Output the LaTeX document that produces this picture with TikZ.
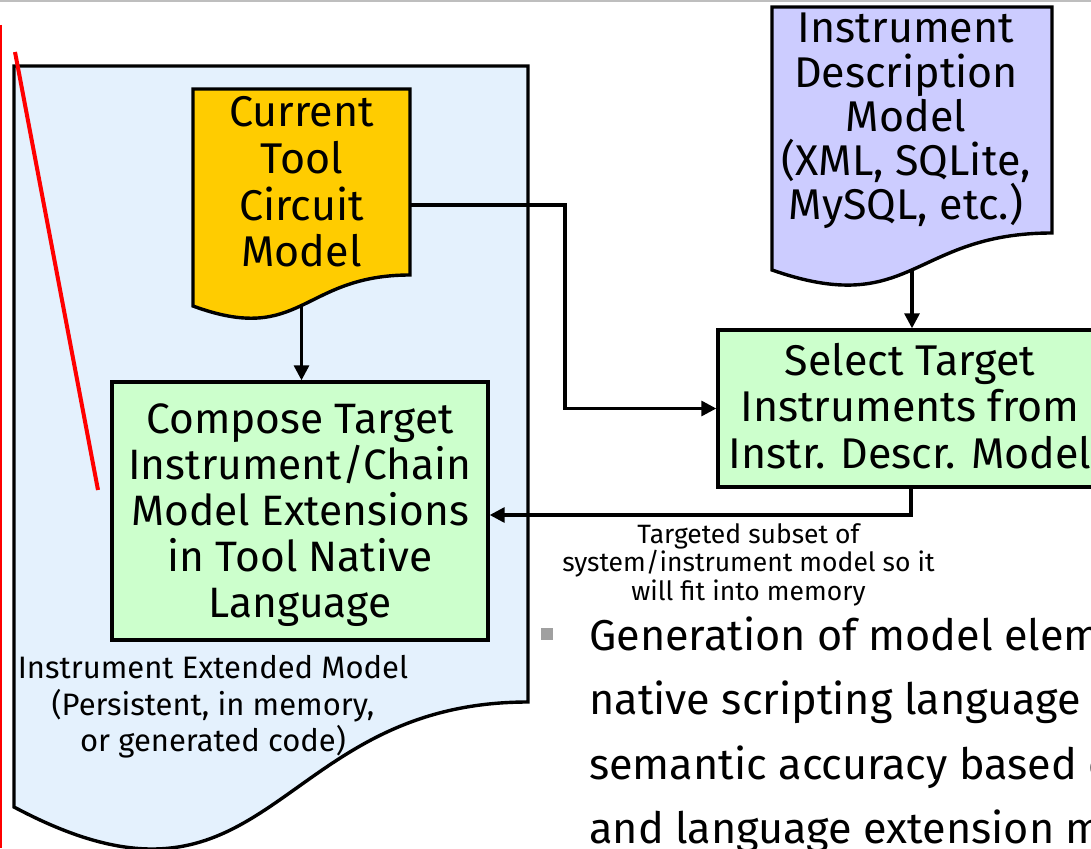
\documentclass[tikz,border=0pt]{standalone}
\usepackage{fontspec}
\setmainfont{Fira Sans}
\usetikzlibrary{arrows.meta}

\definecolor{sheet}{RGB}{228,241,253}
\definecolor{toolgold}{RGB}{255,204,0}
\definecolor{descblue}{RGB}{204,204,255}
\definecolor{stepgreen}{RGB}{204,255,204}
\definecolor{bulletgrey}{RGB}{160,160,160}
\definecolor{ruleline}{RGB}{190,190,190}
\definecolor{markred}{RGB}{255,0,0}

% multi-line text blocks whose baseline is the baseline of the first line
\newcommand\centerstack[1]{\vtop{\lineskiplimit=-100pt\halign{\hfil##\hfil\cr#1\crcr}}}
\newcommand\leftstack[1]{\vtop{\lineskiplimit=-100pt\halign{##\hfil\cr#1\crcr}}}

\begin{document}
\begin{tikzpicture}[x=1pt,y=-1pt,
  outline/.style={draw=black,line width=3.4pt,line join=miter},
  conn/.style={draw=black,line width=3.2pt,-{Triangle[length=15pt,width=15pt]}},
  stepbox/.style={outline,fill=stepgreen,rectangle,inner sep=0pt},
  label/.style={inner sep=0pt,anchor=base},
  bigfont/.style={font=\fontsize{43}{46.5}\selectfont},
]
\useasboundingbox (0,0) rectangle (1091,848);
\clip (0,0) rectangle (1091,848);

% page furniture
\draw[ruleline,line width=2pt] (0,1) -- (1091,1);
\draw[markred,line width=1.5pt] (0.75,25) -- (0.75,848);

% instrument extended model (large document sheet)
\path[outline,fill=sheet] (14,66) -- (528,66) -- (528,702)
  .. controls (271,702) and (271,944) .. (14,807) -- cycle;

\draw[markred,line width=4pt] (15,52) -- (98,490);

% current tool circuit model (document)
\path[outline,fill=toolgold] (193,89) -- (410,89) -- (410,275)
  .. controls (301.5,275) and (301.5,346) .. (193,306)
  coordinate[pos=0.5] (ctcm-out) -- cycle;
\coordinate (ctcm-east) at (410,205);

% instrument description model (document)
\path[outline,fill=descblue] (772,7) -- (1052,7) -- (1052,233)
  .. controls (912,233) and (912,319) .. (772,270)
  coordinate[pos=0.5] (idm-out) -- cycle;

% process boxes
\node[stepbox,minimum width=376pt,minimum height=258pt] (compose) at (300,511) {};
\node[stepbox,minimum width=386pt,minimum height=157pt] (select) at (911,408.5) {};

% connectors
\coordinate (bend) at (565,300);
\draw[conn] (ctcm-out) -- (ctcm-out |- compose.north);
\draw[conn] (ctcm-east) -| (bend) |- (select.west);
\draw[conn] (idm-out) -- (idm-out |- select.north);
\draw[conn] (select.south) |- ([yshift=-4pt]compose.east);

% texts
\node[label,bigfont] (ctcm-text) at (301.5,127)
  {\centerstack{Current\cr Tool\cr Circuit\cr Model}};
\node[label,font=\fontsize{42.5}{46.2}\selectfont] (compose-text) at (300,433)
  {\centerstack{Compose Target\cr Instrument/Chain\cr Model Extensions\cr in Tool Native\cr Language}};
\node[label,bigfont] (select-text) at (910,375)
  {\centerstack{Select Target\cr Instruments from\cr Instr. Descr. Model}};
\node[label,font=\fontsize{43}{44.2}\selectfont] (idm-text) at (906,43)
  {\centerstack{Instrument\cr Description\cr Model\cr (XML, SQLite,\cr MySQL, etc.)}};
\node[label,font=\fontsize{31}{36.6}\selectfont] (ext-label) at (213,678.6)
  {\centerstack{Instrument Extended Model\cr (Persistent, in memory,\cr or generated code)}};
\node[label,font=\fontsize{26.5}{28.5}\selectfont] (subset-label) at (748.5,543)
  {\centerstack{Targeted subset of\cr system/instrument model so it\cr will fit into memory}};

% bullet point
\node[fill=bulletgrey,inner sep=0pt,minimum size=11.5pt] (bullet) at (547,634) {};
\node[inner sep=0pt,anchor=base west,font=\fontsize{43.2}{64.5}\selectfont] (bullet-text) at (589,650)
  {\leftstack{Generation of model elem\cr native scripting language e\cr semantic accuracy based o\cr and language extension mo}};
\end{tikzpicture}
\end{document}
